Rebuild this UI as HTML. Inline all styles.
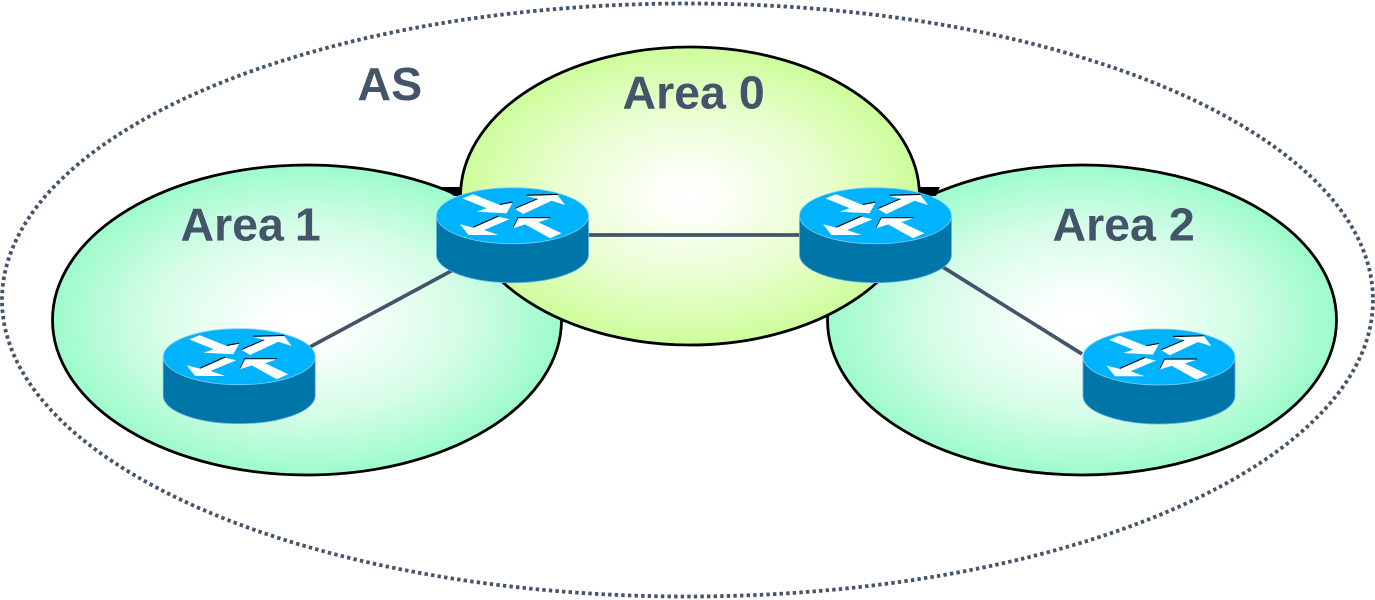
<!DOCTYPE html>
<html>
<head>
<meta charset="utf-8">
<style>
html,body{margin:0;padding:0;background:#fff;width:1375px;height:600px;overflow:hidden}
svg{display:block}
text{font-family:"Liberation Sans",Arial,sans-serif;font-weight:bold;font-size:46.500px;fill:#44546a}
</style>
</head>
<body>
<svg width="1375" height="600" viewBox="0 0 1375 600" xmlns="http://www.w3.org/2000/svg">
<defs>
<radialGradient id="g" cx="50%" cy="50%" r="50%">
<stop offset="0" stop-color="#ffffff"/>
<stop offset="0.15" stop-color="#fcfffd"/>
<stop offset="0.6" stop-color="#d6fde8"/>
<stop offset="1" stop-color="#9dfbcb"/>
</radialGradient>
<radialGradient id="y" cx="50%" cy="50%" r="50%">
<stop offset="0" stop-color="#ffffff"/>
<stop offset="0.15" stop-color="#fcfff8"/>
<stop offset="0.6" stop-color="#e8fece"/>
<stop offset="1" stop-color="#cdfd9b"/>
</radialGradient>
<g id="r">
<path d="M-76 0V39A76 28 0 0 0 76 39V0Z" fill="#0076a8" stroke="#5fb4dc" stroke-width="0.8"/>
<ellipse cx="0" cy="0" rx="76" ry="28" fill="#00b3ff" stroke="#7fd0f5" stroke-width="0.8"/>
<g fill="none" stroke="#000" stroke-width="1.200">
<path d="M14 -20.500L45 -21.200"/>
<path d="M2.500 -7.200L25.800 -17.200"/>
<path d="M-14 0.400L-39 11.500"/>
<path d="M1 12L5.800 2.100H38"/>
<path d="M-12.500 -11.200L0 -13.500"/>
</g>
<g fill="#fff">
<path d="M-50 -17.300L-39.500 -21.400-12.500 -10.700 0 -13-6 -2.400-35.800 -4-25.800 -7.400Z"/>
<path d="M2.500 -6.700L25.800 -16.700 14 -19.700 45 -20.700 52.500 -10.700 39 -15 10.800 -1.700Z"/>
<path d="M-3 3.600L-14 1-39 12-52.500 8.600-44 19.300-14 19.300-28.500 14.300Z"/>
<path d="M0.800 12.600L5.800 2.600H38L25.800 6.500 49 17.600 37.500 22.600 12.700 8.700Z"/>
</g>
</g>
</defs>

<rect width="1375" height="600" fill="#fff"/>

<ellipse cx="687.500" cy="300" rx="685.500" ry="296.500" fill="none" stroke="#44546a" stroke-width="3.800" stroke-dasharray="3.400 3.200"/>

<ellipse cx="307" cy="320" rx="254.500" ry="155" fill="url(#g)" stroke="#000" stroke-width="2.800"/>
<ellipse cx="1082" cy="320" rx="254.500" ry="155" fill="url(#g)" stroke="#000" stroke-width="2.800"/>

<polygon points="441,187 462,187 462,196 454,196" fill="#000"/>
<polygon points="918,187 940,187 936,196 919,196" fill="#000"/>

<ellipse cx="690" cy="196" rx="229.500" ry="149" fill="url(#y)" stroke="#000" stroke-width="2.800"/>

<g stroke="#44546a" stroke-width="3.700" fill="none">
<line x1="588" y1="235" x2="802" y2="235"/>
<line x1="453" y1="270" x2="308" y2="348"/>
<line x1="938" y1="264" x2="1082" y2="354"/>
</g>

<use href="#r" x="512.500" y="215.700"/>
<use href="#r" x="875.500" y="215.700"/>
<use href="#r" x="239.200" y="356.700"/>
<use href="#r" x="1159" y="357"/>

<text x="357.500" y="100">AS</text>
<text x="622.500" y="108.300">Area 0</text>
<text x="180.500" y="240.300">Area <tspan dx="-2">1</tspan></text>
<text x="1052.500" y="240.300">Area 2</text>
</svg>
</body>
</html>
